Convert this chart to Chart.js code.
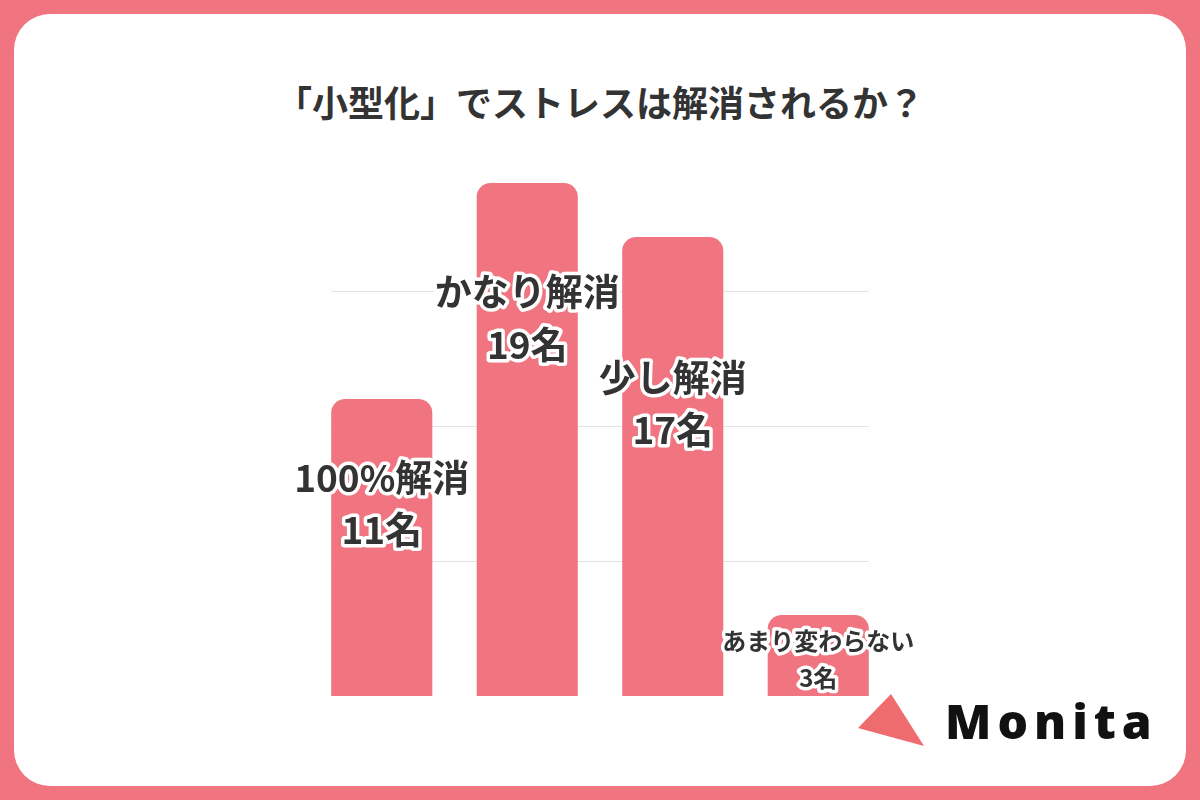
<!DOCTYPE html><html><head><meta charset="utf-8">
<script src="https://cdn.jsdelivr.net/npm/chart.js@4"></script>
<style>
html,body{margin:0;width:1200px;height:800px;background:#f07580;overflow:hidden;font-family:"Noto Sans CJK JP",sans-serif}
#card{position:absolute;left:14px;top:14px;width:1172px;height:772px;background:#fff;border-radius:36px}
#title{position:absolute;left:0;width:1200px;top:76px;text-align:center;font-size:36px;font-weight:bold;color:#333;line-height:50px}
#wrap{position:absolute;left:209px;top:120px;width:782px;height:576px}
#logo{position:absolute;left:945px;top:688px;font-family:"Noto Sans";font-weight:900;font-size:48px;letter-spacing:6px;color:#111;line-height:66px}
#tri{position:absolute;left:858px;top:692px}
</style></head><body>
<div id="card"></div>
<div id="title">「小型化」でストレスは解消されるか？</div>
<div id="wrap"><canvas id="c"></canvas></div>
<svg id="tri" width="80" height="60"><polygon points="0,36 33,2 66,54" fill="#ee6b6e"/></svg>
<div id="logo">Monita</div>
<script>
const categories=["100%解消","かなり解消","少し解消","あまり変わらない"];
const values=[11,19,17,3];
const valueLabels=["11名","19名","17名","3名"];
const gridValues=[5,10,15];
const labelPos=[[0,478,530],[1,292,345],[2,378,430],[3,641,678]];
const labelPlugin={id:'lbl',
 beforeDatasetsDraw(ch){
  const ctx=ch.ctx,m=ch.getDatasetMeta(0),y=ch.scales.y;
  const l=m.data[0].x-m.data[0].width/2,r=m.data[3].x+m.data[3].width/2;
  ctx.save();ctx.strokeStyle='#e3e3e3';ctx.lineWidth=1;
  gridValues.forEach(v=>{const yy=Math.round(y.getPixelForValue(v))+0.5;ctx.beginPath();ctx.moveTo(l,yy);ctx.lineTo(r,yy);ctx.stroke();});
  ctx.restore();},
 afterDatasetsDraw(ch){
 const ctx=ch.ctx,m=ch.getDatasetMeta(0);
 labelPos.forEach(([i,y1,y2])=>{
  const x=m.data[i].x, fs=i==3?24:37;
  ctx.save();ctx.font=`bold ${fs}px "Noto Sans CJK JP"`;ctx.textAlign='center';ctx.textBaseline='middle';
  ctx.lineJoin='round';ctx.lineWidth=7;ctx.strokeStyle='#fff';ctx.fillStyle='#333';
  [[categories[i],y1],[valueLabels[i],y2]].forEach(([t,y])=>{const yy=y-120;ctx.strokeText(t,x,yy);ctx.fillText(t,x,yy);});
  ctx.restore();});
}};
new Chart(document.getElementById('c'),{type:'bar',
 data:{labels:categories,datasets:[{data:values,backgroundColor:'#f07580',borderRadius:{topLeft:14,topRight:14},borderSkipped:'bottom',categoryPercentage:1,barPercentage:0.695}]},
 options:{responsive:true,maintainAspectRatio:false,animation:false,layout:{padding:{left:100,right:100,top:0,bottom:0}},
  plugins:{legend:{display:false},tooltip:{enabled:false}},
  scales:{x:{display:false},y:{min:0,max:21.33,display:false}}},
 plugins:[labelPlugin]});
</script></body></html>
